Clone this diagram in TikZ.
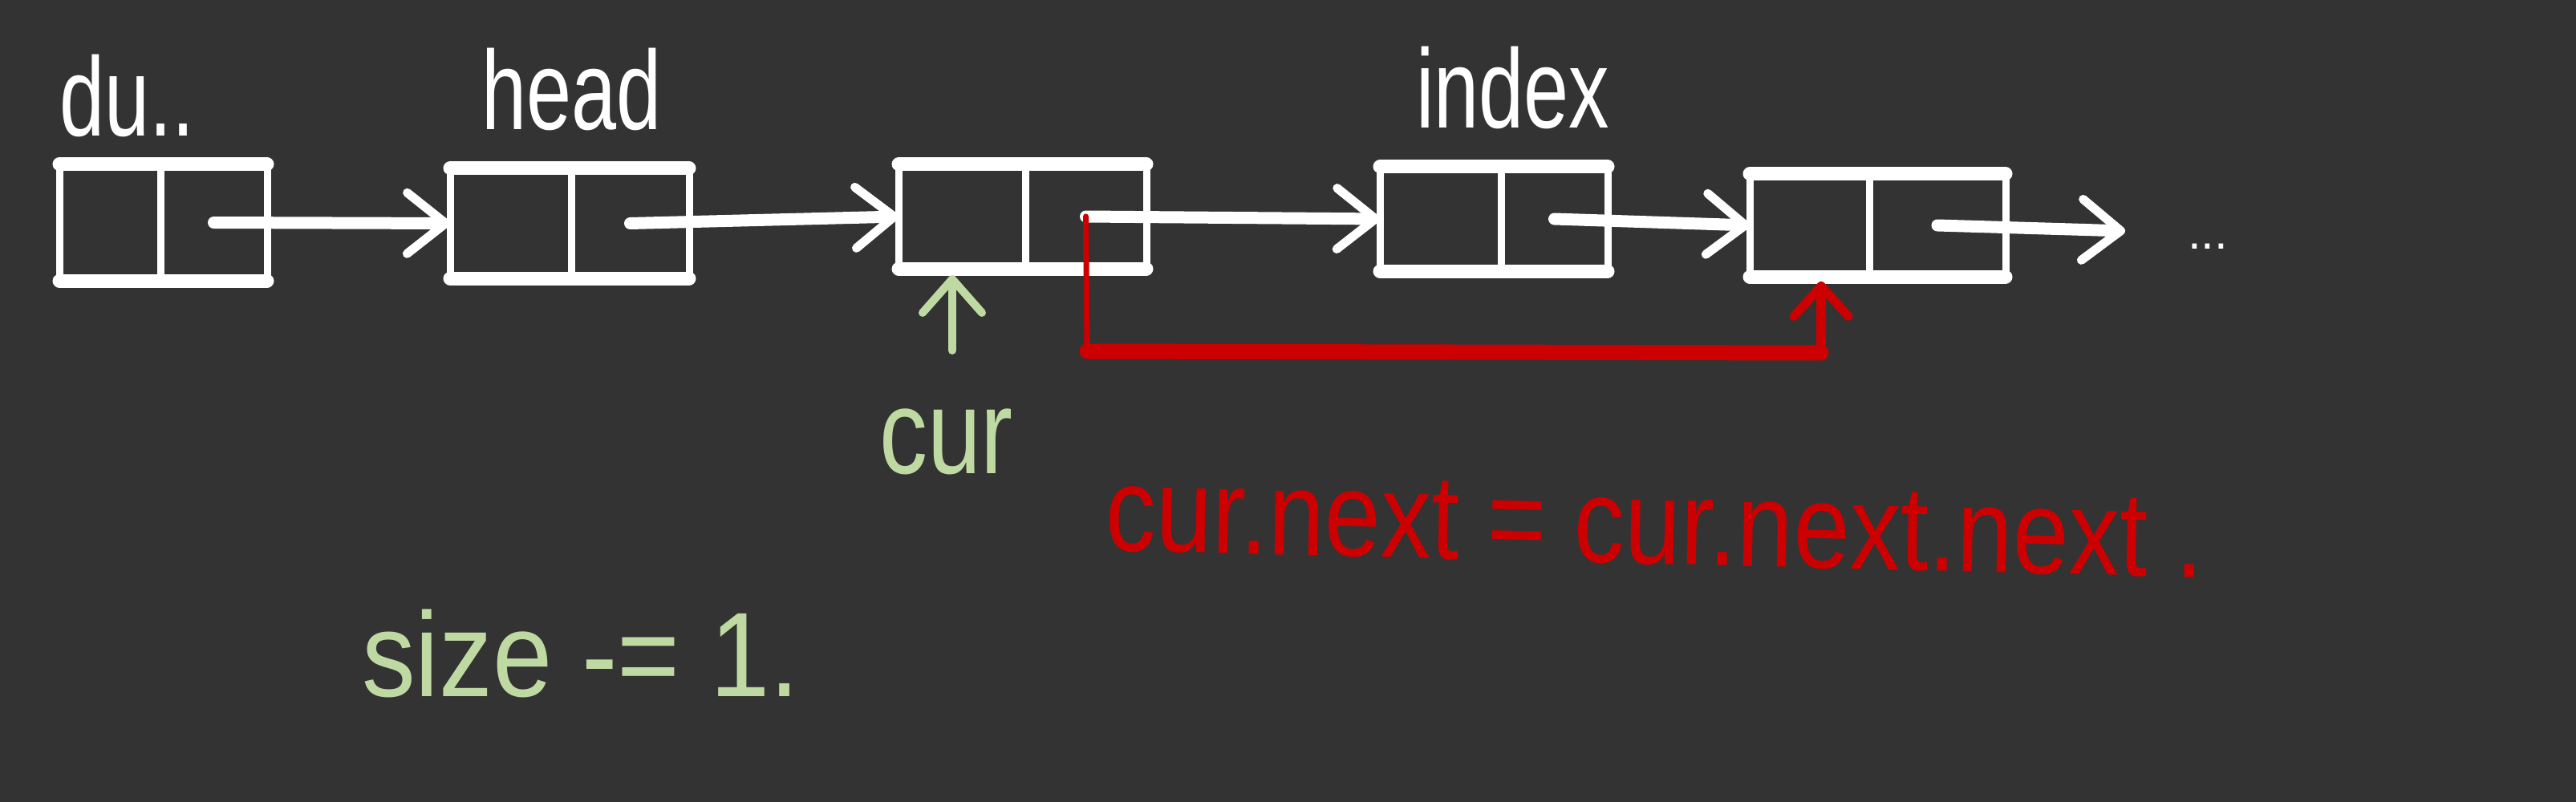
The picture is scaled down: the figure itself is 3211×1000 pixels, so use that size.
\documentclass[tikz,border=0pt]{standalone}
\usepackage{fontspec}
\setmainfont{Liberation Sans}
\usetikzlibrary{arrows.meta,calc}
\definecolor{bg}{HTML}{333333}
\definecolor{chalkgreen}{HTML}{BFD9A2}
\definecolor{chalkred}{HTML}{CC0000}
\tikzset{
  field/.style={draw=none, inner sep=0pt, outer sep=0pt},
  edgeh/.style={white, line width=17pt, line cap=round},
  edgev/.style={white, line width=9pt, line cap=round},
  link/.style={white, line width=15pt, line cap=round,
    -{Straight Barb[length=48pt,width=76pt,line width=11pt,round]}},
  lbl/.style={white, inner sep=0pt, anchor=base west, xscale=0.72,
    font=\fontsize{140}{160}\selectfont},
  greentxt/.style={chalkgreen, inner sep=0pt, anchor=base west,
    font=\fontsize{150}{170}\selectfont},
  redtxt/.style={chalkred, inner sep=0pt, anchor=base west,
    font=\fontsize{150}{170}\selectfont},
  redthin/.style={chalkred, line width=7pt, line cap=round},
  redthick/.style={chalkred, line width=19pt, line cap=round},
  redlink/.style={chalkred, line width=12pt, line cap=round,
    -{Straight Barb[length=38pt,width=68pt,line width=11pt,round]}},
  greenarrow/.style={chalkgreen, line width=10pt, line cap=round,
    -{Straight Barb[length=42pt,width=74pt,line width=10pt,round]}},
}
\begin{document}
\begin{tikzpicture}[x=1pt,y=-1pt]
\fill[bg] (0,0) rectangle (3211,1000);
\useasboundingbox (0,0) rectangle (3211,1000);

% list cells: data field d, next field n
\node[field, minimum width=126pt, minimum height=145pt] (d1) at (137,277.5) {};
\node[field, minimum width=133pt, minimum height=145pt] (n1) at (266.5,277.5) {};
\node[field, minimum width=151pt, minimum height=137pt] (d2) at (636.5,278.5) {};
\node[field, minimum width=147pt, minimum height=137pt] (n2) at (785.5,278.5) {};
\node[field, minimum width=158pt, minimum height=130pt] (d3) at (1199,270) {};
\node[field, minimum width=151pt, minimum height=130pt] (n3) at (1353.5,270) {};
\node[field, minimum width=151pt, minimum height=130pt] (d4) at (1795.5,273) {};
\node[field, minimum width=133pt, minimum height=130pt] (n4) at (1937.5,273) {};
\node[field, minimum width=149pt, minimum height=128pt] (d5) at (2255.5,281) {};
\node[field, minimum width=170pt, minimum height=128pt] (n5) at (2415,281) {};

\foreach \i in {1,...,5}{
  \draw[edgeh] (d\i.north west) -- (n\i.north east);
  \draw[edgeh] (d\i.south west) -- (n\i.south east);
  \draw[edgev] (d\i.north west) -- (d\i.south west);
  \draw[edgev] (d\i.north east) -- (d\i.south east);
  \draw[edgev] (n\i.north east) -- (n\i.south east);
}

% labels
\node[lbl] (tdummy) at (74,170) {du..};
\node[lbl] (thead) at (600,162) {head};
\node[lbl] (tindex) at (1765,160) {index};
\node[white, inner sep=0pt, anchor=base west, font=\fontsize{60}{70}\selectfont] (tail) at (2727,310) {...};

% next pointers
\draw[link] (n1.center) -- (d2.west);
\draw[link] (n2.center) -- (d3.west);
\draw[link] (n3.center) -- (d4.west);
\draw[link] (n4.center) -- (d5.west);
\coordinate (end5) at (2649,288);
\draw[link] (n5.center) -- (end5);

% cur pointer
\node[greentxt, xscale=0.8] (curlbl) at (1096,590) {cur};
\coordinate (gtail) at (1187,437);
\draw[greenarrow, shorten >=8pt] (gtail) -- (gtail |- d3.south);

% red bypass
\coordinate (rc1) at (1355,438);
\coordinate (rc2) at (2270,440);
\draw[redthin] (n3.center) -- (rc1);
\draw[redthick] (rc1) -- (rc2);
\draw[redlink, shorten >=6pt] (rc2) -- (rc2 |- d5.south);

\node[redtxt, xscale=0.84, rotate=-1.2] (code) at (1377,686) {cur.next = cur.next.next .};
\node[greentxt, xscale=0.89] (size) at (451,868) {size -= 1.};
\end{tikzpicture}
\end{document}
